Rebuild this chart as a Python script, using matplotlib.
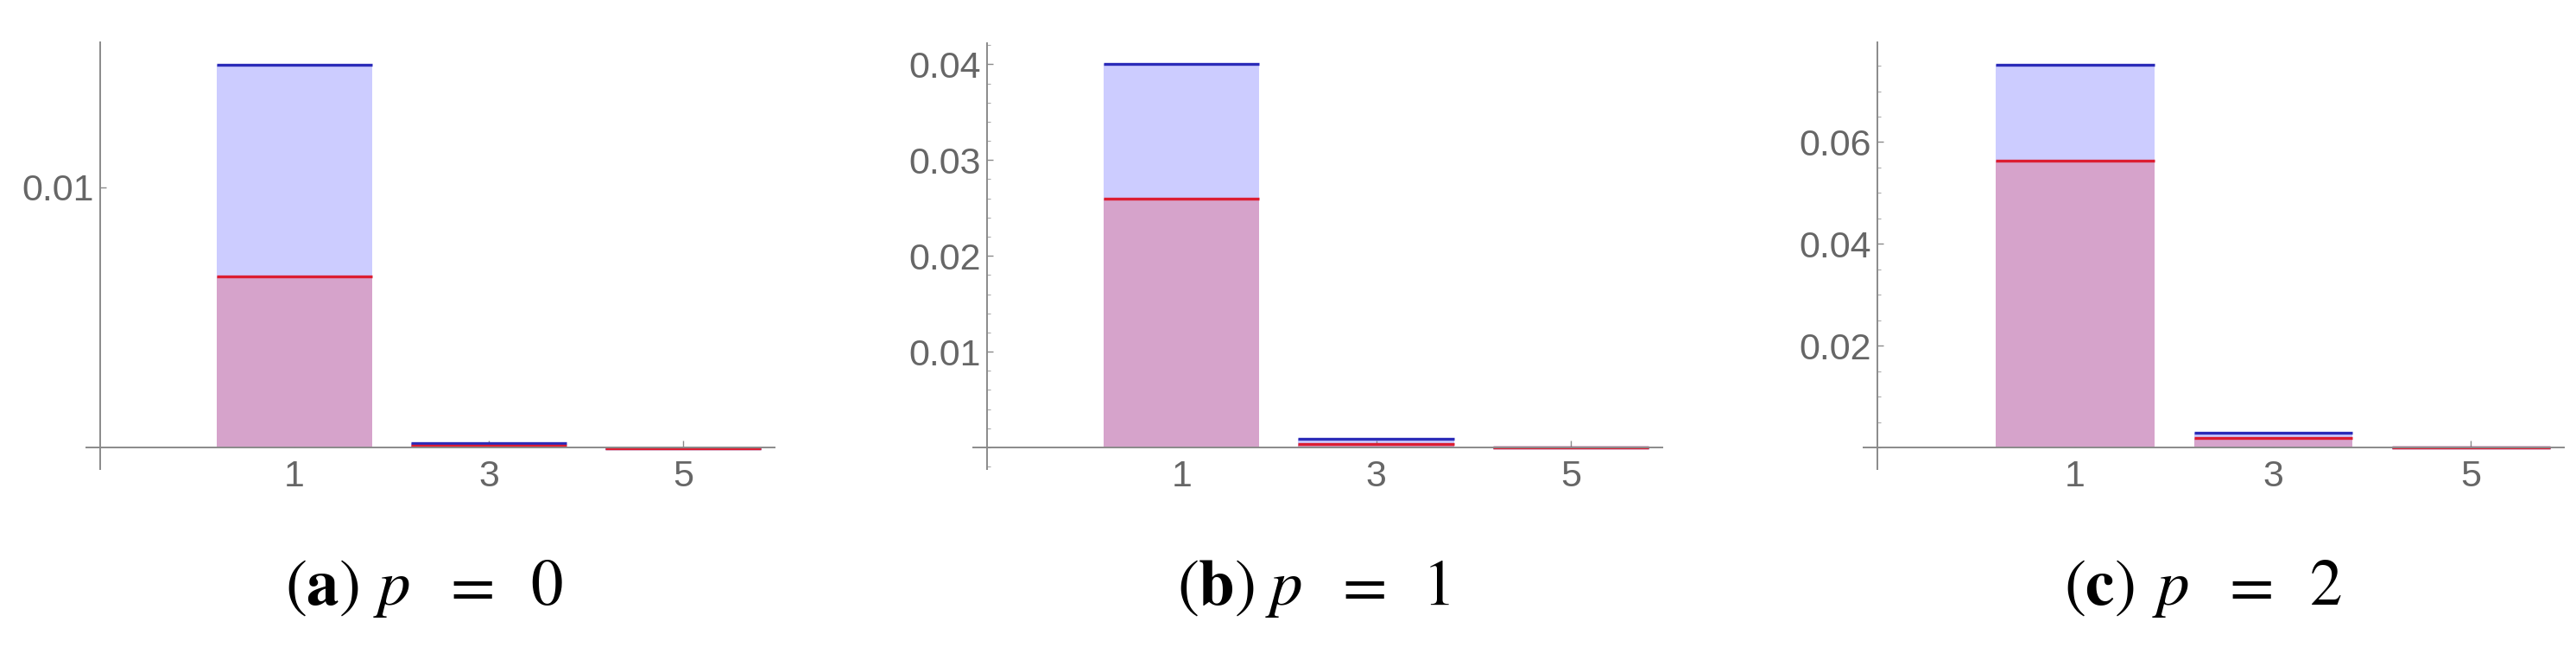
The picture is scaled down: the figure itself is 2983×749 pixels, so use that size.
import numpy as np
import matplotlib.pyplot as plt
from matplotlib.ticker import MultipleLocator, FixedLocator

plt.rcParams['mathtext.fontset'] = 'stix'
plt.rcParams['font.family'] = ['Liberation Sans', 'DejaVu Sans']

W, H = 2983, 749
DPI = 100

# data
positions = [1, 3, 5]
xtick_labels = ['1', '3', '5']
blue_p0 = [0.01472, 0.00017, -0.00002]
red_p0 = [0.00658, 0.00007, -0.00002]
blue_p1 = [0.0400, 0.00091, -0.00002]
red_p1 = [0.02593, 0.00040, -0.00002]
blue_p2 = [0.0752, 0.00294, -0.00004]
red_p2 = [0.0564, 0.00178, -0.00004]
cap_letters = ['a', 'b', 'c']
cap_values = ['0', '1', '2']

blue_fill = '#ccccff'
red_fill = '#d6a3cb'
blue_line = '#2b2bb8'
red_line = '#dc1e32'
axis_col = '#8a8a8a'
lab_col = '#666666'

fig = plt.figure(figsize=(W / DPI, H / DPI), dpi=DPI)


def pix_axes(x0, y0, x1, y1):
    # pixel box (top-left origin) -> figure fraction
    return fig.add_axes([x0 / W, 1 - y1 / H, (x1 - x0) / W, (y1 - y0) / H])


panels = [
    # box, ylim, major, minor, values
    ((100, 49, 897, 543), (-0.00083, 0.01558), [0.01], None, blue_p0, red_p0),
    ((1127, 50, 1925, 543), (-0.00226, 0.0422), [0.01, 0.02, 0.03, 0.04], 0.002, blue_p1, red_p1),
    ((2158, 49, 2969, 543), (-0.00425, 0.0796), [0.02, 0.04, 0.06], 0.005, blue_p2, red_p2),
]
cap_left = [330, 1363, 2390]

for k, (box, ylim, major, minor, blue, red) in enumerate(panels):
    ax = pix_axes(*box)
    ax.set_xlim(-1.14, 5.94)
    ax.set_ylim(*ylim)
    w = 1.6
    ax.bar(positions, blue, width=w, color=blue_fill, linewidth=0, zorder=1)
    ax.bar(positions, red, width=w, color=red_fill, linewidth=0, zorder=2)
    for i in range(len(positions)):
        ax.hlines(blue[i], positions[i] - w / 2, positions[i] + w / 2, color=blue_line, lw=2.4, zorder=3)
    for i in range(len(positions)):
        ax.hlines(red[i], positions[i] - w / 2, positions[i] + w / 2, color=red_line, lw=2.4, zorder=4)

    for s in ['top', 'right']:
        ax.spines[s].set_visible(False)
    ax.spines['left'].set_position(('data', -1))
    ax.spines['bottom'].set_position(('data', 0))
    for s in ['left', 'bottom']:
        ax.spines[s].set_color(axis_col)
        ax.spines[s].set_linewidth(1.4)
        ax.spines[s].set_zorder(5)
    ax.patch.set_visible(False)

    ax.set_xticks(positions)
    ax.set_xticklabels(xtick_labels)
    ax.set_yticks(major)
    ax.set_yticklabels(['%g' % v for v in major])
    if minor is not None:
        ax.yaxis.set_minor_locator(MultipleLocator(minor))
    else:
        ax.yaxis.set_minor_locator(FixedLocator([]))
    ax.tick_params(axis='x', direction='in', length=6, width=1.0, color=axis_col,
                   labelsize=31, labelcolor=lab_col, pad=10)
    ax.tick_params(axis='y', which='major', direction='in', length=5, width=1.0, color=axis_col,
                   labelsize=31, labelcolor=lab_col, pad=5)
    ax.tick_params(axis='y', which='minor', direction='in', length=3, width=0.8, color='#aaaaaa')

    # caption pieces: "(x)", "p", "=", value
    x0 = cap_left[k]
    yb = 1 - 700 / H
    pieces = [(0, r'$(\mathbf{%s})$' % cap_letters[k]), (102, r'$p$'),
              (181, r'$=$'), (284, r'$%s$' % cap_values[k])]
    for dx, s in pieces:
        fig.text((x0 + dx) / W, yb, s, fontsize=54, ha='left', va='baseline')

fig.savefig('out.png', dpi=DPI)
